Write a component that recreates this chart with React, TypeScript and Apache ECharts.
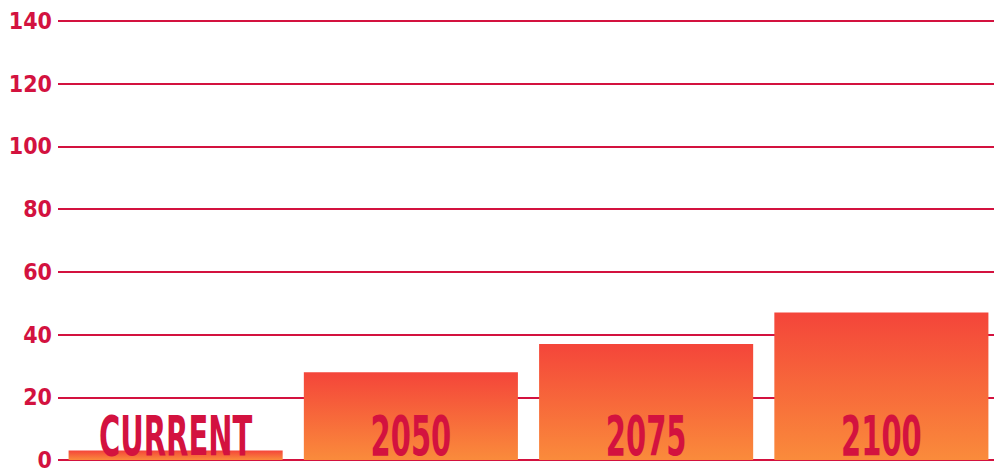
import React, { useEffect, useRef } from "react";
import * as echarts from "echarts";

const categories = ["CURRENT", "2050", "2075", "2100"];
const values = [3, 28, 37, 47];
const yTicks = { min: 0, max: 140, interval: 20 };

const CRIMSON = "#d3123f";
const FONT = "'Liberation Sans Narrow', 'DejaVu Sans Condensed', 'Roboto Condensed', sans-serif";

export default function App() {
  const ref = useRef<HTMLDivElement>(null);
  useEffect(() => {
    if (!ref.current) return;
    const chart = echarts.init(ref.current, null, { renderer: "svg" });
    chart.setOption({
      animation: false,
      backgroundColor: "#ffffff",
      grid: {
        left: 58,
        top: 21,
        bottom: 12,
        width: 941,
        containLabel: false,
        outerBoundsMode: "none",
      },
      xAxis: {
        type: "category",
        data: categories,
        axisLine: { show: false },
        axisTick: { show: false },
        axisLabel: { show: false },
      },
      yAxis: {
        type: "value",
        min: yTicks.min,
        max: yTicks.max,
        interval: yTicks.interval,
        axisLine: { show: false },
        axisTick: { show: false },
        splitLine: { lineStyle: { color: CRIMSON, width: 2 } },
        axisLabel: {
          color: CRIMSON,
          fontFamily: FONT,
          fontWeight: "bold",
          fontSize: 23,
          margin: 6,
        },
      },
      series: [
        {
          type: "bar",
          data: values,
          barCategoryGap: "9%",
          itemStyle: {
            color: new echarts.graphic.LinearGradient(0, 0, 0, 1, [
              { offset: 0, color: "#f4453a" },
              { offset: 1, color: "#fa8b3b" },
            ]),
          },
        },
        {
          type: "custom",
          data: categories.map((_, i) => [i, 0]),
          z: 5,
          silent: true,
          renderItem: (params: any, api: any) => {
            const idx = api.value(0);
            const pt = api.coord([idx, 0]);
            return {
              type: "text",
              x: pt[0],
              y: pt[1] + 4,
              scaleX: 0.575,
              style: {
                text: categories[idx],
                font: `bold 56px ${FONT}`,
                fill: CRIMSON,
                align: "center",
                verticalAlign: "bottom",
              },
            };
          },
        },
      ],
    });
    return () => chart.dispose();
  }, []);
  return <div ref={ref} style={{ width: 994, height: 472, position: "absolute", left: 0, top: 0 }} />;
}
